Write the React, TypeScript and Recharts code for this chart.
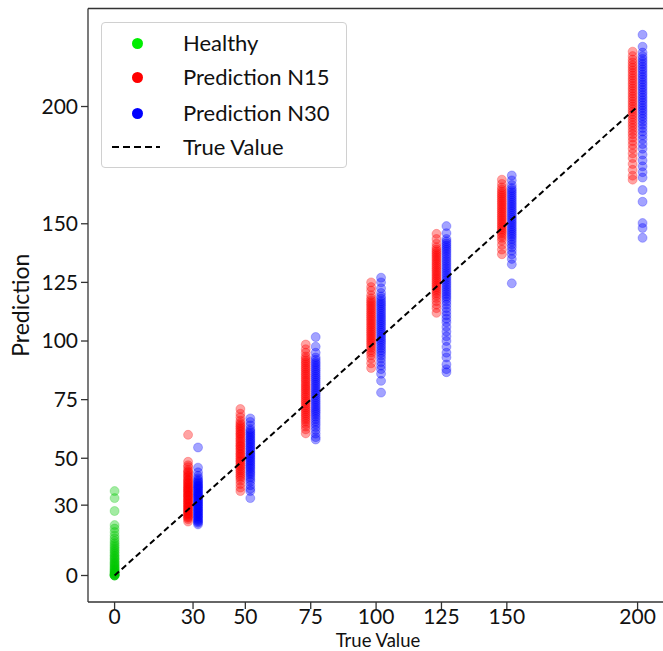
import React from 'react'
import {
  ScatterChart,
  Scatter,
  XAxis,
  YAxis,
  Legend,
  ReferenceLine,
} from 'recharts'

// tick labels
const xTicks = [0, 30, 50, 75, 100, 125, 150, 200]
const yTicks = [0, 30, 50, 75, 100, 125, 150, 200]

// healthy predictions (true value 0)
const healthy = [36, 33, 27.5, 21.5, 20, 18.5, 17, 15.8, 14.7, 13.8, 12.9, 12.1, 11.3, 10.6, 9.9, 9.2, 8.5, 7.9, 7.3, 6.7, 6.1, 5.5, 5, 4.5, 4, 3.5, 3, 2.6, 2.2, 1.8, 1.4, 1.1, 0.8, 0.5, 0.3, 0.1, 0, 0, 0]

// N15 predictions per true value
const n15_30 = [60, 48.5, 47, 46.2, 45, 44.3, 43.8, 43, 42.4, 41.9, 41, 40.6, 40, 39.4, 39, 38.3, 37.9, 37.4, 36.8, 36.5, 35.9, 35.4, 35, 34.3, 34, 33.6, 33, 32.4, 32.1, 31.5, 30.9, 30.6, 30, 29.4, 29.1, 28.5, 27.9, 27.6, 27, 26.4, 26.1, 25.5, 25, 24.6, 24, 23]
const n15_50 = [71, 69, 67.5, 66, 65, 64.2, 63.5, 62.8, 62, 61.3, 60.5, 60, 59.2, 58.4, 57.8, 57, 56.3, 55.5, 55, 54.2, 53.6, 52.8, 52, 51.5, 50.7, 50, 49.2, 48.6, 47.8, 47, 46.4, 45.5, 44.8, 44, 43.1, 42.3, 41.5, 40.4, 39, 37.5, 36]
const n15_75 = [98.5, 96.5, 95, 93.4, 92.5, 91.6, 90.8, 90, 89.1, 88.3, 87.5, 86.6, 85.8, 85, 84.1, 83.3, 82.5, 81.6, 80.8, 80, 79.2, 78.4, 77.5, 76.7, 75.9, 75, 74.2, 73.4, 72.5, 71.6, 70.8, 70, 69.1, 68.3, 67.4, 66.5, 65.6, 64.6, 63.5, 62.3, 60.6]
const n15_100 = [125, 123, 121.5, 119.5, 118.2, 117.3, 116.5, 115.7, 114.9, 114.1, 113.3, 112.5, 111.7, 110.9, 110.1, 109.3, 108.5, 107.7, 106.9, 106.1, 105.3, 104.5, 103.7, 102.9, 102.1, 101.3, 100.5, 99.7, 98.9, 98, 97.1, 96.1, 95.1, 94, 92.5, 90.5, 88.5]
const n15_125 = [145.7, 143.5, 141.5, 140, 139, 138.2, 137.4, 136.6, 135.8, 135, 134.2, 133.4, 132.6, 131.8, 131, 130.2, 129.4, 128.6, 127.8, 127, 126.2, 125.4, 124.6, 123.8, 123, 122.2, 121.3, 120.4, 119.4, 118.3, 117, 115.5, 114, 112]
const n15_150 = [168.8, 167, 165.5, 164.5, 163.6, 162.8, 162, 161.2, 160.4, 159.6, 158.8, 158, 157.2, 156.4, 155.6, 154.8, 154, 153.2, 152.4, 151.6, 150.8, 150, 149.2, 148.4, 147.6, 146.8, 146, 145, 144, 142.8, 141, 139, 137]
const n15_200 = [223.4, 221.5, 220, 218.8, 217.6, 216.5, 215.4, 214.3, 213.2, 212.1, 211, 209.9, 208.8, 207.7, 206.6, 205.5, 204.4, 203.3, 202.2, 201.1, 200, 198.9, 197.8, 196.7, 195.6, 194.4, 193.2, 192, 190.8, 189.5, 188.2, 186.8, 185.3, 183.7, 182, 180, 178, 175.5, 173, 170.5, 168.8]

// N30 predictions per true value
const n30_30 = [54.6, 46, 44, 42.5, 41.5, 40.7, 40.1, 39.6, 39, 38.4, 38.1, 37.5, 37, 36.6, 36, 35.4, 35.1, 34.5, 34, 33.6, 33.1, 32.5, 32, 31.4, 31.1, 30.5, 30, 29.6, 29, 28.4, 28.1, 27.5, 27, 26.6, 26, 25.4, 25.1, 24.5, 24, 23.4, 23, 22.5, 21.8]
const n30_50 = [67, 65.5, 64, 62.5, 61.7, 61, 60.2, 59.5, 58.7, 58, 57.3, 56.5, 55.8, 55, 54.3, 53.5, 52.8, 52, 51.4, 50.6, 50, 49.2, 48.5, 47.7, 47, 46.2, 45.5, 44.6, 43.8, 43, 42, 41, 40, 38.5, 37, 36, 33]
const n30_75 = [101.7, 97.6, 95, 93, 92, 91, 90.2, 89.3, 88.4, 87.5, 86.6, 85.7, 84.8, 84, 83.1, 82.2, 81.3, 80.4, 79.5, 78.6, 77.7, 76.8, 75.9, 75, 74.1, 73.2, 72.3, 71.4, 70.5, 69.6, 68.7, 67.7, 66.7, 65.6, 64.5, 63.3, 62, 60.5, 59, 58]
const n30_100 = [127, 125, 122.5, 120.5, 119, 118, 117, 116.1, 115.2, 114.3, 113.4, 112.5, 111.6, 110.7, 109.8, 108.9, 108, 107.1, 106.2, 105.3, 104.4, 103.5, 102.6, 101.7, 100.8, 99.9, 99, 98, 97, 96, 95, 93.8, 92.5, 91, 89.5, 88, 86, 83, 78]
const n30_125 = [149, 146, 143.5, 142.5, 141.6, 140.7, 139.8, 138.9, 138, 137, 136, 135, 134, 133, 132, 131, 130, 129, 128, 127, 126, 125, 124, 123, 122, 121, 120, 119, 118, 116.8, 115.5, 114, 112.5, 111, 109.5, 108, 106, 104, 102, 100, 97.5, 95, 93, 90, 88, 86.7]
const n30_150 = [170.6, 168.5, 166.5, 165.2, 164.3, 163.4, 162.5, 161.6, 160.7, 159.8, 158.9, 158, 157.1, 156.2, 155.3, 154.4, 153.5, 152.6, 151.7, 150.8, 149.9, 149, 148.1, 147.2, 146.3, 145.4, 144.5, 143.5, 142.4, 141.2, 140, 138.5, 137, 135, 132.7, 124.6]
const n30_200 = [230.6, 225.5, 223, 221.5, 220.3, 219.2, 218.1, 217, 215.9, 214.8, 213.7, 212.6, 211.5, 210.4, 209.3, 208.2, 207.1, 206, 204.9, 203.8, 202.7, 201.6, 200.5, 199.4, 198.3, 197.2, 196, 194.8, 193.5, 192.2, 190.8, 189.3, 187.7, 186, 184, 182, 179.5, 177, 174.5, 172, 169.7, 164.4, 159.4, 150.3, 148.2, 144]

const trueValues = [30, 50, 75, 100, 125, 150, 200]
const n15Sets = [n15_30, n15_50, n15_75, n15_100, n15_125, n15_150, n15_200]
const n30Sets = [n30_30, n30_50, n30_75, n30_100, n30_125, n30_150, n30_200]
const trueLine = [
  { x: 0, y: 0 },
  { x: 200, y: 200 },
]

// red sits just left of the true value, blue just right
const SHIFT = 1.9
const healthyPts = healthy.map((y) => ({ x: 0, y }))
const n15Pts = n15Sets.flatMap((set, i) => set.map((y) => ({ x: trueValues[i] - SHIFT, y })))
const n30Pts = n30Sets.flatMap((set, i) => set.map((y) => ({ x: trueValues[i] + SHIFT, y })))

const FONT = 'Lato, "Open Sans", sans-serif'
const AXIS = '#333'
const ALPHA = 0.36
const X_DOMAIN = [-10.17, 210.1]
const Y_DOMAIN = [-11.3, 241.8]

const dot = (color: string, alpha: number) => (p: any) => (
  <circle
    cx={p.cx}
    cy={p.cy}
    r={4.5}
    fill={color}
    fillOpacity={alpha}
    stroke={color}
    strokeOpacity={alpha * 0.7}
    strokeWidth={1}
  />
)

const legendItems = [
  { label: 'Healthy', color: '#00ee00', kind: 'dot' },
  { label: 'Prediction N15', color: '#ff0000', kind: 'dot' },
  { label: 'Prediction N30', color: '#0000ff', kind: 'dot' },
  { label: 'True Value', color: '#000', kind: 'line' },
]

const LegendBox = () => (
  <div
    style={{
      position: 'relative',
      width: 246,
      height: 146,
      boxSizing: 'border-box',
      border: '1px solid #d0d0d0',
      borderRadius: 4,
      background: 'rgba(255,255,255,0.8)',
      fontFamily: FONT,
      fontSize: 22,
      color: '#111',
    }}>
    {legendItems.map((it, i) => {
      const cy = [20, 54, 90, 123.5][i]
      return (
        <div key={it.label}>
          {it.kind === 'dot' ? (
            <div
              style={{
                position: 'absolute',
                left: 29.5,
                top: cy - 5.5,
                width: 11,
                height: 11,
                borderRadius: 6,
                background: it.color,
              }}
            />
          ) : (
            <svg style={{ position: 'absolute', left: 10, top: cy - 2 }} width={50} height={4}>
              <line x1={0} y1={2} x2={48} y2={2} stroke='#000' strokeWidth={2} strokeDasharray='7 4' />
            </svg>
          )}
          <div
            style={{
              position: 'absolute',
              left: 81,
              top: cy - 14,
              lineHeight: '28px',
              whiteSpace: 'nowrap',
            }}>
            {it.label}
          </div>
        </div>
      )
    })}
  </div>
)

const yTitle = (props: any) => {
  const vb = props.viewBox
  const x = 20
  const y = vb.y + vb.height / 2
  return (
    <text
      x={x}
      y={y}
      transform={`rotate(-90 ${x} ${y})`}
      textAnchor='middle'
      dominantBaseline='central'
      fontFamily={FONT}
      fontSize={23}
      fill='#111'>
      Prediction
    </text>
  )
}

const xTitle = (props: any) => {
  const vb = props.viewBox
  return (
    <text
      x={vb.x + vb.width / 2 + 2}
      y={647}
      textAnchor='middle'
      fontFamily={FONT}
      fontSize={18.5}
      fill='#111'>
      True Value
    </text>
  )
}

const tickStyle = { fontFamily: FONT, fontSize: 21, fill: '#111' }

export default function App() {
  return (
    <div
      style={{
        position: 'absolute',
        left: 0,
        top: 0,
        width: 663,
        height: 651,
        overflow: 'hidden',
        background: '#fff',
      }}>
      <ScatterChart
        width={664}
        height={651}
        margin={{ top: 8.5, right: 0, bottom: 0, left: 28 }}>
        <XAxis
          type='number'
          dataKey='x'
          domain={X_DOMAIN}
          ticks={xTicks}
          allowDataOverflow
          height={49}
          tickSize={7}
          tickMargin={0}
          tick={tickStyle}
          stroke={AXIS}
          axisLine={{ stroke: AXIS, strokeWidth: 1.3 }}
          tickLine={{ stroke: AXIS, strokeWidth: 1.3 }}
          label={{ content: xTitle }}
        />
        <YAxis
          type='number'
          dataKey='y'
          domain={Y_DOMAIN}
          ticks={yTicks}
          allowDataOverflow
          width={60}
          tickSize={7}
          tickMargin={3}
          tick={tickStyle}
          stroke={AXIS}
          axisLine={{ stroke: AXIS, strokeWidth: 1.3 }}
          tickLine={{ stroke: AXIS, strokeWidth: 1.3 }}
          label={{ content: yTitle }}
        />
        <ReferenceLine y={Y_DOMAIN[1]} stroke={AXIS} strokeWidth={1.3} />
        <Scatter
          name='Healthy'
          data={healthyPts}
          shape={dot('#00c800', ALPHA)}
          isAnimationActive={false}
        />
        <Scatter
          name='Prediction N15'
          data={n15Pts}
          shape={dot('#ff0000', ALPHA)}
          isAnimationActive={false}
        />
        <Scatter
          name='Prediction N30'
          data={n30Pts}
          shape={dot('#0000ff', ALPHA)}
          isAnimationActive={false}
        />
        <Scatter
          name='True Value'
          data={trueLine}
          line={{ stroke: '#000', strokeWidth: 2, strokeDasharray: '6 3.5' }}
          shape={() => <g />}
          isAnimationActive={false}
        />
        <Legend
          layout='vertical'
          align='center'
          verticalAlign='middle'
          wrapperStyle={{ left: 101, top: 22, width: 246, height: 146 }}
          content={() => <LegendBox />}
        />
      </ScatterChart>
    </div>
  )
}
